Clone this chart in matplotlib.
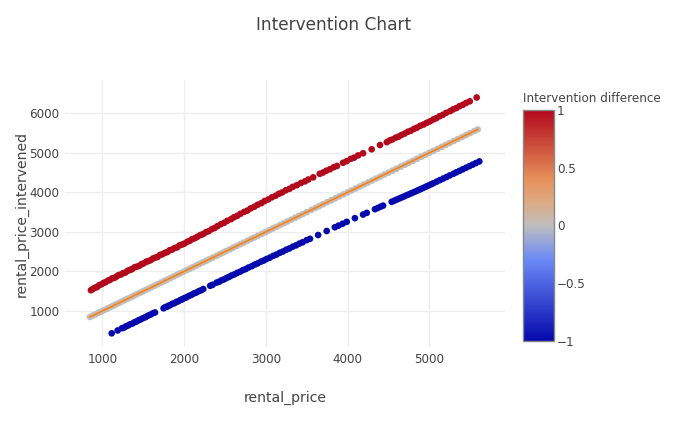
import matplotlib
matplotlib.use("Agg")
import matplotlib.pyplot as plt
import numpy as np
from matplotlib.colors import LinearSegmentedColormap

# rows with intervention difference = +1
red_x = [861, 885, 910, 935, 960, 990, 1015, 1040, 1070, 1095, 1120, 1150, 1175, 1200, 1230,
         1255, 1285, 1310, 1340, 1365, 1395, 1420, 1450, 1480, 1505, 1535, 1560, 1590, 1620,
         1650, 1675, 1705, 1735, 1765, 1795, 1825, 1855, 1885, 1915, 1945, 1975, 2005, 2040,
         2070, 2100, 2135, 2165, 2200, 2230, 2265, 2300, 2340, 2375, 2410, 2450, 2490, 2530,
         2575, 2610, 2650, 2690, 2735, 2775, 2815, 2860, 2900, 2945, 2985, 3030, 3075, 3120,
         3160, 3200, 3245, 3290, 3330, 3380, 3430, 3480, 3520, 3580, 3660, 3700, 3740, 3785,
         3830, 3870, 3945, 3990, 4040, 4080, 4130, 4190, 4295, 4397, 4480, 4515, 4550, 4590,
         4625, 4660, 4700, 4740, 4775, 4815, 4850, 4890, 4930, 4970, 5010, 5050, 5085, 5125,
         5165, 5205, 5255, 5290, 5330, 5370, 5410, 5450, 5495, 5580]
red_y = [1526, 1557, 1590, 1603, 1650, 1675, 1710, 1728, 1770, 1787, 1825, 1840, 1873, 1910, 1925,
         1957, 1975, 2018, 2040, 2060, 2107, 2120, 2140, 2185, 2203, 2245, 2260, 2284, 2328,
         2352, 2365, 2417, 2435, 2470, 2490, 2537, 2555, 2593, 2610, 2660, 2680, 2705, 2752,
         2775, 2818, 2843, 2880, 2922, 2942, 2990, 3018, 3070, 3100, 3148, 3195, 3230, 3282,
         3323, 3370, 3405, 3458, 3507, 3540, 3595, 3638, 3688, 3727, 3780, 3820, 3875, 3915,
         3965, 3998, 4053, 4090, 4140, 4182, 4238, 4278, 4325, 4380, 4470, 4502, 4548, 4585,
         4636, 4668, 4750, 4790, 4848, 4878, 4935, 4990, 5090, 5197, 5270, 5313, 5338, 5385,
         5410, 5452, 5488, 5535, 5560, 5607, 5638, 5685, 5716, 5762, 5798, 5845, 5875, 5925,
         5960, 6010, 6055, 6098, 6132, 6180, 6215, 6262, 6303, 6400]

# rows with intervention difference = 0
grey_x = [849, 885, 920, 955, 990, 1025, 1060, 1095, 1130, 1165, 1200, 1240, 1275, 1310, 1350,
          1385, 1420, 1460, 1495, 1530, 1570, 1605, 1645, 1680, 1720, 1760, 1795, 1835, 1875,
          1915, 1950, 1990, 2030, 2070, 2110, 2150, 2190, 2230, 2270, 2310, 2350, 2395, 2435,
          2475, 2515, 2560, 2600, 2645, 2690, 2730, 2775, 2820, 2860, 2905, 2950, 2995, 3040,
          3085, 3130, 3175, 3220, 3265, 3310, 3360, 3405, 3450, 3500, 3560, 3610, 3655, 3700,
          3750, 3800, 3850, 3900, 3950, 4000, 4050, 4100, 4150, 4200, 4250, 4300, 4350, 4400,
          4450, 4500, 4550, 4600, 4650, 4700, 4750, 4800, 4850, 4900, 4950, 5000, 5050, 5100,
          5150, 5200, 5250, 5300, 5350, 5400, 5450, 5500, 5550, 5592]
grey_y = [849, 885, 920, 955, 990, 1025, 1060, 1095, 1130, 1165, 1200, 1240, 1275, 1310, 1350,
          1385, 1420, 1460, 1495, 1530, 1570, 1605, 1645, 1680, 1720, 1760, 1795, 1835, 1875,
          1915, 1950, 1990, 2030, 2070, 2110, 2150, 2190, 2230, 2270, 2310, 2350, 2395, 2435,
          2475, 2515, 2560, 2600, 2645, 2690, 2730, 2775, 2820, 2860, 2905, 2950, 2995, 3040,
          3085, 3130, 3175, 3220, 3265, 3310, 3360, 3405, 3450, 3500, 3560, 3610, 3655, 3700,
          3750, 3800, 3850, 3900, 3950, 4000, 4050, 4100, 4150, 4200, 4250, 4300, 4350, 4400,
          4450, 4500, 4550, 4600, 4650, 4700, 4750, 4800, 4850, 4900, 4950, 5000, 5050, 5100,
          5150, 5200, 5250, 5300, 5350, 5400, 5450, 5500, 5550, 5592]

# rows with intervention difference = -1
blue_x = [1115, 1188, 1240, 1265, 1290, 1315, 1340, 1365, 1395, 1420, 1445, 1470, 1500, 1530,
          1560, 1590, 1620, 1645, 1750, 1770, 1790, 1810, 1830, 1855, 1880, 1905, 1930, 1955,
          1980, 2005, 2030, 2060, 2090, 2120, 2150, 2180, 2210, 2235, 2320, 2350, 2400, 2430,
          2460, 2490, 2520, 2550, 2580, 2615, 2650, 2685, 2720, 2755, 2790, 2830, 2865, 2900,
          2940, 2975, 3010, 3050, 3090, 3130, 3170, 3210, 3250, 3290, 3330, 3370, 3410, 3450,
          3500, 3540, 3640, 3745, 3845, 3890, 3940, 3990, 4090, 4190, 4235, 4335, 4370, 4405,
          4435, 4540, 4570, 4600, 4630, 4660, 4690, 4720, 4750, 4780, 4810, 4840, 4870, 4900,
          4930, 4960, 4990, 5020, 5050, 5090, 5130, 5170, 5210, 5250, 5295, 5330, 5370, 5410,
          5450, 5490, 5530, 5570, 5612]
blue_y = [436, 508, 565, 580, 612, 633, 664, 681, 717, 737, 769, 788, 822, 846,
          883, 909, 944, 963, 1070, 1098, 1106, 1134, 1148, 1181, 1196, 1227, 1247, 1279,
          1298, 1327, 1346, 1383, 1408, 1444, 1467, 1502, 1526, 1556, 1638, 1664, 1720, 1742,
          1778, 1800, 1836, 1862, 1898, 1925, 1964, 1993, 2034, 2061, 2102, 2135, 2175, 2203,
          2248, 2277, 2316, 2350, 2394, 2427, 2472, 2505, 2550, 2583, 2627, 2660, 2704, 2738,
          2792, 2826, 2922, 3023, 3119, 3160, 3208, 3255, 3348, 3440, 3482, 3575, 3606, 3639,
          3665, 3762, 3788, 3816, 3842, 3870, 3896, 3924, 3950, 3978, 4005, 4032, 4060, 4088,
          4116, 4145, 4174, 4203, 4232, 4272, 4310, 4350, 4388, 4428, 4471, 4506, 4545, 4584,
          4624, 4662, 4702, 4741, 4783]

red_diff = 1
grey_diff = 0
blue_diff = -1

# identity reference line
line_x = [849, 5592]
line_y = [849, 5592]

cbar_ticks = [-1, -0.5, 0, 0.5, 1]
cbar_labels = ["\u22121", "\u22120.5", "0", "0.5", "1"]

# plotly RdBu colorscale
rdbu = LinearSegmentedColormap.from_list("rdbu", [
    (0.0, (5/255, 10/255, 172/255)),
    (0.35, (106/255, 137/255, 247/255)),
    (0.5, (190/255, 190/255, 190/255)),
    (0.6, (220/255, 170/255, 132/255)),
    (0.7, (230/255, 145/255, 90/255)),
    (1.0, (178/255, 10/255, 28/255)),
])

plt.rcParams['font.family'] = ['DejaVu Sans']
text_col = '#444444'

fig = plt.figure(figsize=(6.8, 4.26), dpi=100)
ax = fig.add_axes([65/680, 79/426, 440/680, 267/426])

msize = 23
ax.scatter(red_x, red_y, c=[red_diff] * len(red_x), cmap=rdbu, vmin=-1, vmax=1,
           s=msize, linewidths=0, zorder=3)
ax.scatter(blue_x, blue_y, c=[blue_diff] * len(blue_x), cmap=rdbu, vmin=-1, vmax=1,
           s=msize, linewidths=0, zorder=3)
sc = ax.scatter(grey_x, grey_y, c=[grey_diff] * len(grey_x), cmap=rdbu, vmin=-1, vmax=1,
                s=msize, linewidths=0, zorder=3)
ax.plot(line_x, line_y, color='#ff7f0e', linewidth=1.2, zorder=4)

ax.set_xlim(544, 5926)
ax.set_ylim(90, 6842)
ax.set_xticks([1000, 2000, 3000, 4000, 5000])
ax.set_yticks([1000, 2000, 3000, 4000, 5000, 6000])
ax.grid(True, color='#eeeeee', linewidth=1)
ax.set_axisbelow(True)
for s in ax.spines.values():
    s.set_visible(False)
ax.tick_params(length=0, labelsize=8.64, labelcolor=text_col, pad=4)
ax.set_xlabel('rental_price', fontsize=10.1, color=text_col)
ax.xaxis.set_label_coords(0.5, -0.191)
ax.xaxis.label.set_va('center')
ax.set_ylabel('rental_price_intervened', fontsize=10.1, color=text_col)
ax.yaxis.set_label_coords(-0.098, 0.498)
ax.yaxis.label.set_va('center')

cax = fig.add_axes([523/680, 85.5/426, 31/680, 230/426])
cb = fig.colorbar(sc, cax=cax, ticks=cbar_ticks)
cb.ax.set_yticklabels(cbar_labels)
cb.outline.set_edgecolor('#888888')
cb.outline.set_linewidth(1)
cb.ax.tick_params(length=0, labelsize=8.64, labelcolor=text_col, pad=2)
fig.text(523/680, 1 - 98/426, 'Intervention difference', fontsize=8.64, color=text_col,
         ha='left', va='center')

fig.text(334/680, 1 - 25/426, 'Intervention Chart', fontsize=12.24, color=text_col,
         ha='center', va='center')

fig.savefig('out.png', dpi=100)
